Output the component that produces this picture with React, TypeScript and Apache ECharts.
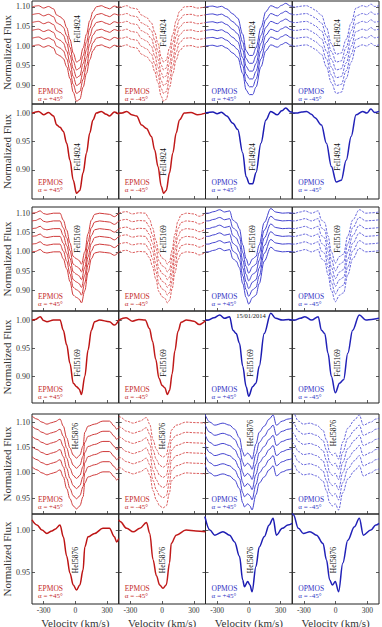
import React, { useEffect, useRef } from 'react';
import * as echarts from 'echarts';

// ---------------- data ----------------
const OFFSETS = [0, 0.02, 0.04, 0.06, 0.08, 0.1];
const X_TICKS = [-300, 0, 300];
const SPECIES = ['FeII4924', 'FeII5169', 'HeI5876'];
const MODES = ['EPMOS', 'EPMOS', 'OPMOS', 'OPMOS'];
const ANGLES = ['α = +45°', 'α = -45°', 'α = +45°', 'α = -45°'];
const DATE_LABEL = '15/01/2014';

const Y_TICKS_STACK_FE = [0.9, 0.95, 1.0, 1.05, 1.1];
const Y_TICKS_OVER_FE = [0.9, 0.95, 1.0];
const Y_TICKS_STACK_HE = [0.95, 1.0, 1.05, 1.1];
const Y_TICKS_OVER_HE = [0.95, 1.0];

// FeII 4924 : [velocity km/s, normalized flux]
const FE4924_EP_P45 = [[-410,1.0],[-348,1.003],[-300,0.997],[-254,1.001],[-207,0.995],[-176,0.979],[-145,0.975],[-114,0.968],[-82,0.947],[-51,0.917],[-20,0.882],[11,0.859],[42,0.864],[73,0.895],[105,0.93],[136,0.965],[166,0.988],[198,1.0],[245,1.003],[292,0.998],[322,0.995],[369,1.002],[410,0.998]];
const FE4924_EP_M45 = [[-410,1.0],[-381,1.0],[-335,1.003],[-288,0.997],[-241,0.995],[-194,0.979],[-148,0.973],[-101,0.959],[-70,0.935],[-39,0.906],[-8,0.871],[14,0.859],[39,0.864],[70,0.895],[101,0.93],[133,0.965],[164,0.988],[210,1.0],[273,1.001],[335,0.997],[410,1.0]];
const FE4924_OP_P45 = [[-410,1.0],[-340,1.002],[-300,0.999],[-260,1.0015],[-210,0.995],[-151,0.982],[-105,0.971],[-58,0.93],[-26,0.888],[5,0.876],[36,0.876],[67,0.895],[114,0.947],[161,0.988],[207,1.003],[269,0.997],[310,1.004],[348,1.009],[395,1.002],[410,1.002]];
const FE4924_OP_M45 = [[-410,1.0],[-367,1.0],[-320,1.002],[-274,1.003],[-230,0.998],[-196,0.992],[-134,0.979],[-87,0.947],[-40,0.906],[6,0.879],[53,0.882],[100,0.917],[147,0.959],[193,0.997],[255,1.003],[295,1.0],[333,1.007],[370,1.001],[410,1.003]];

// FeII 5169
const FE5169_EP_P45 = [[-410,1.0],[-380,1.001],[-332,1.006],[-300,0.999],[-269,0.997],[-207,1.0],[-145,1.0],[-114,0.982],[-82,0.956],[-51,0.923],[-20,0.888],[11,0.882],[35,0.878],[58,0.868],[89,0.9],[120,0.947],[151,0.982],[182,0.997],[229,1.0],[322,0.997],[369,0.991],[410,1.0]];
const FE5169_EP_M45 = [[-410,1.0],[-340,1.004],[-280,0.998],[-220,1.001],[-160,1.0],[-120,0.985],[-90,0.962],[-60,0.93],[-30,0.897],[0,0.884],[25,0.88],[50,0.868],[70,0.875],[95,0.905],[120,0.945],[150,0.98],[180,0.996],[230,1.0],[300,0.998],[350,0.992],[410,0.999]];
const FE5169_OP_P45 = [[-410,1.0],[-385,1.0],[-330,1.004],[-276,1.009],[-229,1.003],[-182,1.006],[-151,0.982],[-120,0.976],[-89,0.959],[-58,0.918],[-26,0.882],[-2,0.865],[36,0.882],[67,0.888],[98,0.918],[145,0.976],[207,1.012],[254,1.003],[316,1.0],[378,1.001],[410,1.0]];
const FE5169_OP_M45 = [[-410,1.0],[-383,1.0],[-335,1.003],[-290,1.006],[-227,1.0],[-165,1.006],[-134,0.982],[-103,0.976],[-72,0.941],[-40,0.9],[-3,0.871],[37,0.888],[75,0.894],[115,0.941],[161,0.982],[224,1.009],[286,1.0],[340,1.001],[410,1.003]];

// HeI 5876
const HE5876_EP_P45 = [[-410,1.012],[-363,1.006],[-316,1.0],[-269,0.996],[-222,0.999],[-192,1.001],[-145,1.006],[-114,0.992],[-82,0.969],[-51,0.949],[-20,0.935],[11,0.929],[42,0.935],[73,0.953],[89,0.98],[120,0.992],[182,0.996],[260,1.002],[322,1.002],[369,0.992],[390,0.986],[410,0.99]];
const HE5876_EP_M45 = [[-410,1.012],[-397,1.01],[-335,1.002],[-273,0.998],[-210,1.002],[-148,1.009],[-117,0.996],[-86,0.965],[-54,0.946],[-23,0.935],[8,0.931],[39,0.935],[70,0.961],[86,0.984],[133,0.994],[226,1.0],[320,0.999],[410,0.998]];
const HE5876_OP_P45 = [[-416,1.016],[-369,1.0],[-322,0.994],[-245,0.998],[-182,0.994],[-135,0.986],[-89,0.969],[-58,0.941],[-42,0.933],[-11,0.939],[10,0.935],[30,0.927],[67,0.957],[98,0.98],[145,0.992],[192,1.006],[229,1.014],[260,0.994],[316,1.002],[369,1.006],[410,1.008]];
const HE5876_OP_M45 = [[-410,1.02],[-399,1.018],[-352,1.002],[-305,0.996],[-243,0.998],[-180,0.994],[-119,0.984],[-87,0.965],[-56,0.941],[-31,0.935],[-3,0.939],[28,0.927],[68,0.961],[115,0.988],[178,1.004],[224,1.014],[262,0.994],[333,1.0],[380,1.006],[410,1.008]];

const PROFILES = [
  [FE4924_EP_P45, FE4924_EP_M45, FE4924_OP_P45, FE4924_OP_M45],
  [FE5169_EP_P45, FE5169_EP_M45, FE5169_OP_P45, FE5169_OP_M45],
  [HE5876_EP_P45, HE5876_EP_M45, HE5876_OP_P45, HE5876_OP_M45],
];

// ---------------- layout ----------------
const FONT = 'Liberation Serif';
const PANEL_LEFT = 32;
const COL_W = 86.75;
const ROWS = [
  { top: 1, h: 103, min: 0.852, max: 1.115, ticks: Y_TICKS_STACK_FE, stacked: true, pad: 2 },
  { top: 104, h: 95, min: 0.849, max: 1.016, ticks: Y_TICKS_OVER_FE, stacked: false, pad: 6 },
  { top: 207, h: 104, min: 0.847, max: 1.116, ticks: Y_TICKS_STACK_FE, stacked: true, pad: 4 },
  { top: 311, h: 92, min: 0.853, max: 1.016, ticks: Y_TICKS_OVER_FE, stacked: false, pad: 3 },
  { top: 414, h: 100, min: 0.919, max: 1.116, ticks: Y_TICKS_STACK_HE, stacked: true, pad: 4 },
  { top: 514, h: 90, min: 0.9125, max: 1.019, ticks: Y_TICKS_OVER_HE, stacked: false, pad: 5 },
];
const SPECIES_POS = [
  [[77, 29], [163, 33], [252, 35], [337, 33]],
  [[77, 157], [163, 162], [252, 157], [337, 157]],
  [[77, 239], [163, 239], [252, 239], [337, 239]],
  [[77, 363], [163, 363], [250, 363], [337, 363]],
  [[75, 436], [162, 436], [250, 433], [333, 433]],
  [[75, 560], [162, 560], [250, 560], [333, 560]],
];
const TOP_COLORS = ['#cf3a3a', '#d64a4a', '#4343cf', '#5656d8'];
const BOTTOM_COLORS = ['#bd1414', '#c01a1a', '#1c1cb2', '#2222b8'];
const TEXT_COLORS = ['#c42a2a', '#c42a2a', '#3434c4', '#3434c4'];

export default function App() {
  const ref = useRef<HTMLDivElement>(null);
  useEffect(() => {
    document.body.style.margin = '0';
    const chart = echarts.init(ref.current!, null, { renderer: 'svg' });
    const grids: any[] = [];
    const xAxes: any[] = [];
    const yAxes: any[] = [];
    const series: any[] = [];
    const graphics: any[] = [];
    const tick = (vals: number[]) => ({
      show: true, inside: true, length: 3, customValues: vals, lineStyle: { color: '#333', width: 0.8 },
    });

    ROWS.forEach((row, r) => {
      const group = Math.floor(r / 2);
      const isLastRow = r === ROWS.length - 1;
      for (let c = 0; c < 4; c++) {
        const gi = grids.length;
        const left = PANEL_LEFT + c * COL_W;
        grids.push({
          left, top: row.top, width: COL_W, height: row.h,
          show: true, borderColor: '#222', borderWidth: 1,
          containLabel: false, outerBoundsMode: 'none',
        });
        xAxes.push({
          type: 'value', gridIndex: gi, min: -410, max: 410, position: 'bottom',
          axisLine: { show: false, onZero: false },
          splitLine: { show: false },
          axisTick: tick(X_TICKS),
          axisLabel: {
            show: isLastRow, customValues: X_TICKS, margin: 2,
            fontFamily: FONT, fontSize: 7.5, color: '#333',
            formatter: (v: number) => String(v),
          },
          name: isLastRow ? 'Velocity (km/s)' : '',
          nameLocation: 'middle', nameGap: 13,
          nameTextStyle: { fontFamily: FONT, fontSize: 11, color: '#333' },
        });
        const yi = yAxes.length;
        yAxes.push({
          type: 'value', gridIndex: gi, min: row.min, max: row.max, position: 'left',
          axisLine: { show: false, onZero: false },
          splitLine: { show: false },
          axisTick: tick(row.ticks),
          axisLabel: {
            show: c === 0, customValues: row.ticks, margin: 2,
            fontFamily: FONT, fontSize: 8, color: '#333',
            formatter: (v: number) => v.toFixed(2),
          },
          name: c === 0 ? 'Normalized Flux' : '',
          nameLocation: 'middle', nameGap: 18, nameRotate: 90,
          nameTextStyle: { fontFamily: FONT, fontSize: 11, color: '#333' },
        });
        yAxes.push({
          type: 'value', gridIndex: gi, min: row.min, max: row.max, position: 'right',
          axisLine: { show: false, onZero: false },
          splitLine: { show: false },
          axisTick: tick(row.ticks),
          axisLabel: { show: false },
        });

        const profile = PROFILES[group][c];
        const dashed = c === 1 || c === 3;
        if (row.stacked) {
          OFFSETS.forEach((off) => {
            series.push({
              type: 'line', xAxisIndex: gi, yAxisIndex: yi,
              data: profile.map(([v, f]) => [v, +(f + off).toFixed(4)]),
              symbol: 'none', smooth: 0.35, smoothMonotone: 'x', silent: true, clip: true,
              lineStyle: { color: TOP_COLORS[c], width: dashed ? 0.9 : 1, type: dashed ? [2.4, 1.2] : 'solid' },
            });
          });
        } else {
          series.push({
            type: 'line', xAxisIndex: gi, yAxisIndex: yi,
            data: profile.map(([v, f]) => [v, f]),
            symbol: 'none', smooth: 0.35, smoothMonotone: 'x', silent: true, clip: true,
            lineStyle: { color: BOTTOM_COLORS[c], width: 1.5 },
          });
        }

        const baseY = row.top + row.h - row.pad;
        graphics.push({
          type: 'text', x: left + 6, y: baseY - 7, silent: true,
          style: {
            text: MODES[c], fill: TEXT_COLORS[c],
            fontFamily: FONT, fontSize: 7.5, align: 'left', verticalAlign: 'bottom',
          },
        });
        graphics.push({
          type: 'text', x: left + 6, y: baseY, silent: true,
          style: {
            text: ANGLES[c], fill: TEXT_COLORS[c],
            fontFamily: FONT, fontSize: 7, align: 'left', verticalAlign: 'bottom',
          },
        });
        const [sx, sy] = SPECIES_POS[r][c];
        graphics.push({
          type: 'text', x: sx, y: sy, rotation: Math.PI / 2, silent: true,
          style: { text: SPECIES[group], fill: '#111', fontFamily: FONT, fontSize: 7.5, align: 'center', verticalAlign: 'middle' },
        });
      }
    });

    graphics.push({
      type: 'text', x: 251, y: 315.5, silent: true,
      style: { text: DATE_LABEL, fill: '#111', fontFamily: FONT, fontSize: 6.5, align: 'center', verticalAlign: 'middle' },
    });

    chart.setOption({
      animation: false,
      backgroundColor: '#fff',
      textStyle: { fontFamily: FONT },
      grid: grids,
      xAxis: xAxes,
      yAxis: yAxes,
      series,
      graphic: graphics,
    });
    return () => chart.dispose();
  }, []);
  return (
    <div
      ref={ref}
      style={{ position: 'fixed', left: 0, top: 0, width: 382, height: 627, background: '#fff' }}
    />
  );
}
